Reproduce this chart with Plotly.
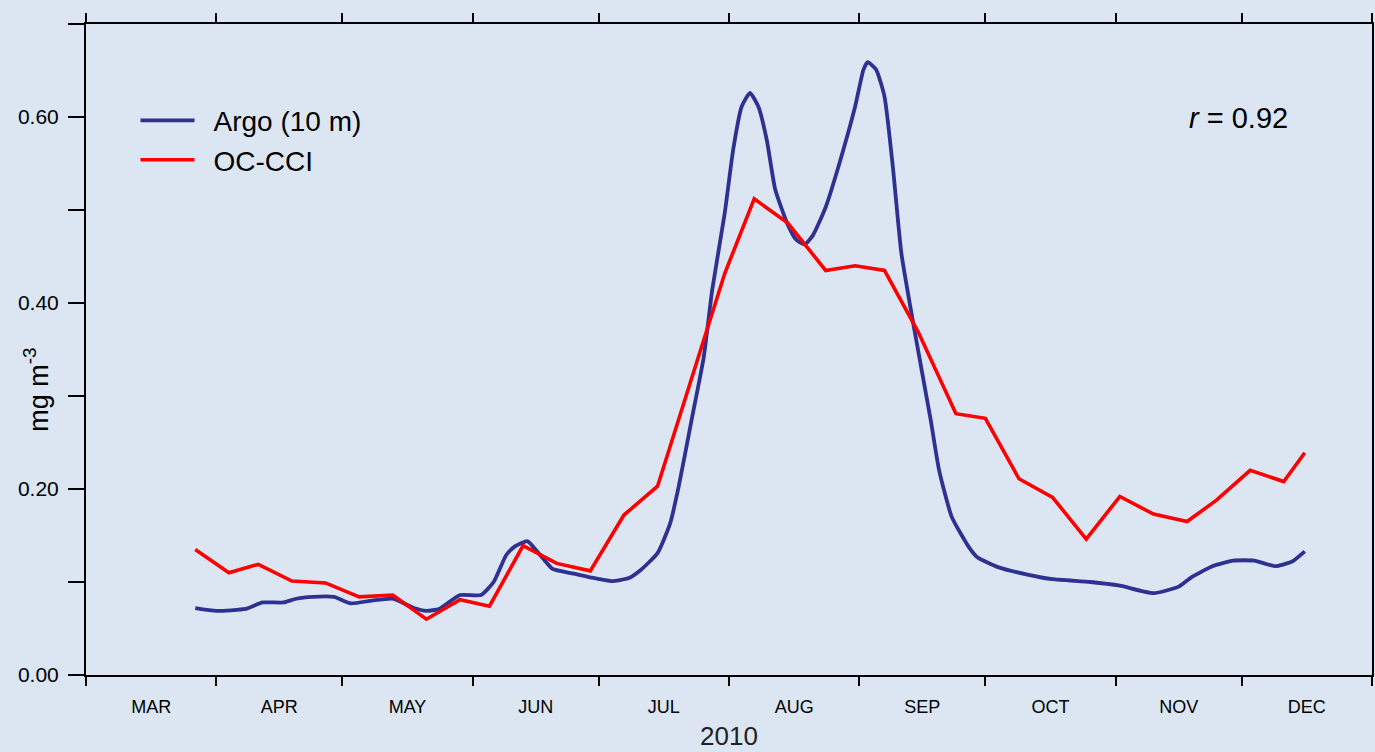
import plotly.graph_objects as go

# ---- data ----
month_labels = ["MAR", "APR", "MAY", "JUN", "JUL", "AUG", "SEP", "OCT", "NOV", "DEC"]
month_starts = ["2010-03-01", "2010-04-01", "2010-05-01", "2010-06-01", "2010-07-01",
                "2010-08-01", "2010-09-01", "2010-10-01", "2010-11-01", "2010-12-01",
                "2011-01-01"]
month_mids = ["2010-03-16 12:00", "2010-04-16", "2010-05-16 12:00", "2010-06-16",
              "2010-07-16 12:00", "2010-08-16 12:00", "2010-09-16", "2010-10-16 12:00",
              "2010-11-16", "2010-12-16 12:00"]
year_label = "2010"

occci_dates = ["2010-03-27", "2010-04-04", "2010-04-11", "2010-04-19", "2010-04-27",
               "2010-05-05", "2010-05-13", "2010-05-21", "2010-05-29", "2010-06-05",
               "2010-06-13", "2010-06-21", "2010-06-29", "2010-07-07", "2010-07-15",
               "2010-07-22", "2010-07-31", "2010-08-07", "2010-08-15", "2010-08-24",
               "2010-08-31", "2010-09-07", "2010-09-15", "2010-09-24", "2010-10-01",
               "2010-10-09", "2010-10-17", "2010-10-25", "2010-11-02", "2010-11-10",
               "2010-11-18", "2010-11-25", "2010-12-03", "2010-12-11", "2010-12-16"]
occci_vals = [0.135, 0.110, 0.119, 0.101, 0.099, 0.084, 0.086, 0.060, 0.081, 0.074,
              0.139, 0.120, 0.112, 0.172, 0.203, 0.303, 0.432, 0.512, 0.486, 0.435,
              0.440, 0.435, 0.369, 0.281, 0.276, 0.211, 0.191, 0.146, 0.192, 0.173,
              0.165, 0.188, 0.220, 0.208, 0.239]

argo_dates = ["2010-03-27", "2010-04-01", "2010-04-08", "2010-04-12", "2010-04-17",
              "2010-04-20", "2010-04-24", "2010-04-29", "2010-05-03", "2010-05-08",
              "2010-05-13", "2010-05-18", "2010-05-21", "2010-05-24", "2010-05-29",
              "2010-06-03", "2010-06-06", "2010-06-09", "2010-06-11", "2010-06-14",
              "2010-06-15", "2010-06-18", "2010-06-20", "2010-06-25", "2010-06-29",
              "2010-07-04", "2010-07-08", "2010-07-11", "2010-07-15", "2010-07-18",
              "2010-07-20", "2010-07-23", "2010-07-26", "2010-07-28", "2010-07-31",
              "2010-08-02", "2010-08-04", "2010-08-06", "2010-08-08", "2010-08-10",
              "2010-08-12", "2010-08-15", "2010-08-17", "2010-08-19", "2010-08-21",
              "2010-08-24", "2010-08-27", "2010-08-31", "2010-09-02", "2010-09-03",
              "2010-09-05", "2010-09-07", "2010-09-09", "2010-09-11", "2010-09-14",
              "2010-09-18", "2010-09-20", "2010-09-23", "2010-09-27", "2010-09-29",
              "2010-10-04", "2010-10-11", "2010-10-17", "2010-10-26", "2010-11-02",
              "2010-11-10", "2010-11-16", "2010-11-19", "2010-11-24", "2010-11-29",
              "2010-12-04", "2010-12-09", "2010-12-13", "2010-12-16"]
argo_vals = [0.072, 0.069, 0.071, 0.078, 0.078,
             0.082, 0.084, 0.084, 0.077, 0.080,
             0.082, 0.072, 0.069, 0.071, 0.086,
             0.086, 0.100, 0.129, 0.138, 0.144,
             0.140, 0.124, 0.114, 0.109, 0.105,
             0.101, 0.104, 0.113, 0.131, 0.163,
             0.202, 0.272, 0.342, 0.414, 0.497,
             0.565, 0.611, 0.626, 0.611, 0.575,
             0.522, 0.484, 0.468, 0.463, 0.473,
             0.503, 0.546, 0.611, 0.651, 0.659,
             0.651, 0.622, 0.546, 0.454, 0.374,
             0.274, 0.220, 0.170, 0.138, 0.127,
             0.116, 0.108, 0.103, 0.100, 0.096,
             0.088, 0.095, 0.105, 0.117, 0.123,
             0.123, 0.117, 0.122, 0.133]

y_ticks = [0.0, 0.2, 0.4, 0.6]
y_minor = [0.1, 0.3, 0.5, 0.7]

BG = "#dce6f2"
FONT = "Liberation Sans, Arial, sans-serif"

fig = go.Figure()
fig.add_trace(go.Scatter(x=argo_dates, y=argo_vals, mode="lines", name="\u2002Argo (10 m)",
                         line=dict(color="#2e3192", width=3.8, shape="spline", smoothing=0.5)))
fig.add_trace(go.Scatter(x=occci_dates, y=occci_vals, mode="lines", name="\u2002OC-CCI",
                         line=dict(color="#ff0000", width=3.6)))

fig.update_layout(
    width=1375, height=752,
    paper_bgcolor=BG, plot_bgcolor=BG,
    margin=dict(l=86, r=3, t=24, b=77, autoexpand=False),
    font=dict(family=FONT, color="black"),
    showlegend=True,
    legend=dict(x=0.0385, xanchor="left", y=0.89, yanchor="top",
                bgcolor="rgba(0,0,0,0)", font=dict(size=28, family=FONT),
                itemwidth=54),
    xaxis=dict(
        type="date", range=[month_starts[0], month_starts[-1]], automargin=False,
        tickmode="array", tickvals=month_mids, ticktext=month_labels,
        ticks="", showgrid=False, zeroline=False,
        showline=True, linecolor="black", linewidth=2, mirror="ticks",
        tickfont=dict(size=18, family="Liberation Sans Narrow, Liberation Sans, Arial"),
        ticklabelstandoff=14,
        minor=dict(tickmode="array", tickvals=month_starts, ticks="outside",
                   ticklen=9, tickwidth=2, tickcolor="black", showgrid=False),
    ),
    yaxis=dict(
        range=[0, 0.7], tickmode="array", tickvals=y_ticks, tickformat=".2f",
        automargin=False,
        ticks="outside", ticklen=16, tickwidth=2, tickcolor="black",
        showgrid=False, zeroline=False,
        showline=True, linecolor="black", linewidth=2, mirror=True,
        tickfont=dict(size=21, family=FONT),
        ticklabelstandoff=5,
        minor=dict(tickmode="array", tickvals=y_minor, ticks="outside",
                   ticklen=16, tickwidth=2, tickcolor="black", showgrid=False),
    ),
    annotations=[
        dict(text="mg m<sup>-3</sup>", xref="paper", yref="paper", x=-0.0385, y=0.439,
             xanchor="center", yanchor="middle", textangle=-90, showarrow=False,
             font=dict(size=27, family=FONT, color="black")),
        dict(text="<i>r</i> = 0.92", xref="paper", yref="paper", x=0.936, y=0.855,
             xanchor="right", yanchor="middle", showarrow=False,
             font=dict(size=29, family=FONT, color="black")),
        dict(text=year_label, xref="paper", yref="paper", x=0.5, y=-0.093,
             xanchor="center", yanchor="middle", showarrow=False,
             font=dict(size=26, family=FONT, color="#222")),
    ],
)

fig.write_html("out.html",
               config={"displayModeBar": False},
               post_script="document.body.style.margin='0';"
                           "document.body.style.background='#dce6f2';")
